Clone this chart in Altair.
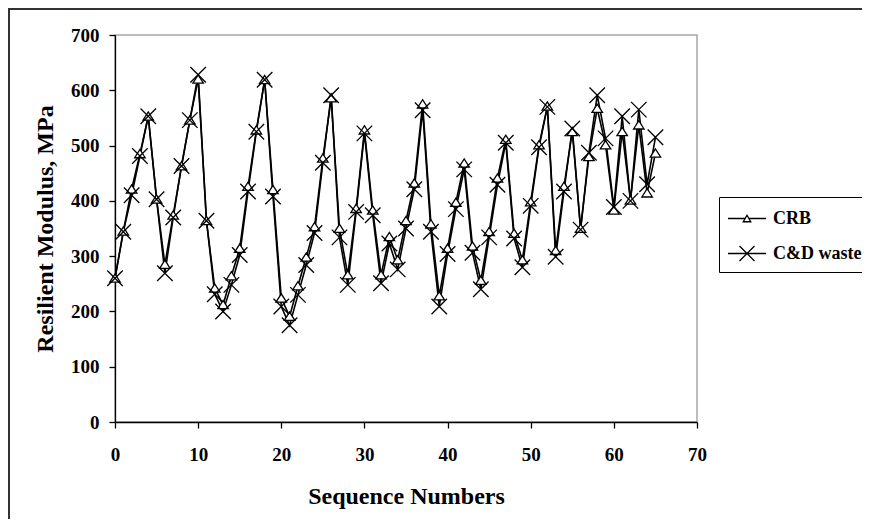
import altair as alt
import pandas as pd

seq = list(range(66))
crb = [260, 345, 421, 485, 553, 403, 285, 374, 463, 546,
       620, 364, 242, 212, 264, 314, 426, 528, 619, 420,
       224, 191, 246, 298, 353, 477, 586, 350, 266, 386,
       528, 383, 266, 335, 293, 364, 432, 575, 358, 228,
       314, 397, 468, 318, 256, 344, 441, 511, 341, 293,
       398, 501, 571, 310, 426, 525, 350, 480, 567, 501,
       383, 525, 401, 537, 414, 486]
cdw = [260, 344, 410, 481, 553, 403, 269, 370, 463, 546,
       628, 364, 231, 200, 248, 302, 417, 525, 619, 408,
       209, 175, 230, 284, 342, 469, 591, 334, 248, 380,
       522, 374, 251, 323, 276, 350, 421, 564, 344, 209,
       304, 385, 457, 306, 240, 334, 429, 505, 332, 280,
       391, 497, 570, 299, 417, 531, 348, 487, 591, 513,
       389, 553, 400, 565, 430, 515]
series_names = ["CRB", "C&D waste"]
x_ticks = [0, 10, 20, 30, 40, 50, 60, 70]
y_ticks = [0, 100, 200, 300, 400, 500, 600, 700]

rows = []
for n, v in zip(seq, crb):
    rows.append({"seq": n, "mr": v, "series": series_names[0]})
for n, v in zip(seq, cdw):
    rows.append({"seq": n, "mr": v, "series": series_names[1]})
df = pd.DataFrame(rows)

W, H = 582, 387
PAD = {"left": 107, "top": 27, "right": 165, "bottom": 97}
FONT = "Liberation Serif"

x_enc = alt.X("seq:Q", scale=alt.Scale(domain=[0, 70], nice=False),
              axis=alt.Axis(values=x_ticks, title="Sequence Numbers",
                            labelPadding=17, titlePadding=20))
y_enc = alt.Y("mr:Q", scale=alt.Scale(domain=[0, 700], nice=False),
              axis=alt.Axis(values=y_ticks, title="Resilient Modulus, MPa",
                            labelPadding=10, titlePadding=13))

base = alt.Chart(df).encode(x=x_enc, y=y_enc)

lines = base.mark_line(color="black", strokeWidth=1.6).encode(detail="series:N")

tri_path = "M-0.7,0.52L0,-0.58L0.7,0.52Z"
x_path = "M-1,-1L1,1M-1,1L1,-1"

pts_crb = base.transform_filter(alt.datum.series == "CRB").mark_point(
    shape=tri_path, size=225, filled=True, fill="white", stroke="black",
    strokeWidth=1.3, opacity=1)
pts_cd = base.transform_filter(alt.datum.series == "C&D waste").mark_point(
    shape=x_path, size=240, filled=False, stroke="black",
    strokeWidth=1.3, opacity=1)

leg_tri = "M-1.52,0H-0.16M0.16,0H1.52M-0.3,0.26L0,-0.26L0.3,0.26Z"
leg_x = "M-1.52,0H1.52M-0.6,-0.6L0.6,0.6M-0.6,0.6L0.6,-0.6"

legend_layer = base.transform_filter("false").mark_point(
    filled=False, color="black", strokeWidth=1.3, opacity=1
).encode(
    shape=alt.Shape("series:N",
                    scale=alt.Scale(domain=series_names, range=[leg_tri, leg_x]),
                    legend=alt.Legend(
                        title=None, orient="none", legendX=604, legendY=162,
                        labelFont=FONT, labelFontSize=18, labelFontWeight="bold",
                        labelColor="black", symbolSize=625, symbolOffset=6.5,
                        labelOffset=12.5, padding=8, rowPadding=12,
                        strokeColor="black", fillColor="white",
                        symbolStrokeColor="black", symbolStrokeWidth=1.3,
                        symbolOpacity=1))
)

bdata = alt.Data(values=[{"a": 1}])
left_border = alt.Chart(bdata).mark_rule(color="#333333", strokeWidth=2).encode(
    x=alt.value(-106), y=alt.value(-26), y2=alt.value(H + 97))
top_border = alt.Chart(bdata).mark_rule(color="#333333", strokeWidth=2).encode(
    x=alt.value(-107), x2=alt.value(W + 165), y=alt.value(-26))

chart = alt.layer(
    lines, pts_crb, pts_cd, legend_layer, left_border, top_border
).properties(
    width=W, height=H, autosize=alt.AutoSizeParams(type="none"), padding=PAD,
    background="white"
).configure_view(
    stroke="#a6a6a6", strokeWidth=1.5
).configure_axis(
    labelFont=FONT, labelFontSize=19, labelFontWeight="bold", labelColor="black",
    titleFont=FONT, titleFontSize=24, titleFontWeight="bold", titleColor="black",
    domainColor="black", domainWidth=1.3, tickColor="black", tickWidth=1.3,
    tickSize=6, grid=False, labelFlush=False
)

chart.save("out.html", embed_options={"renderer": "svg", "actions": False})
